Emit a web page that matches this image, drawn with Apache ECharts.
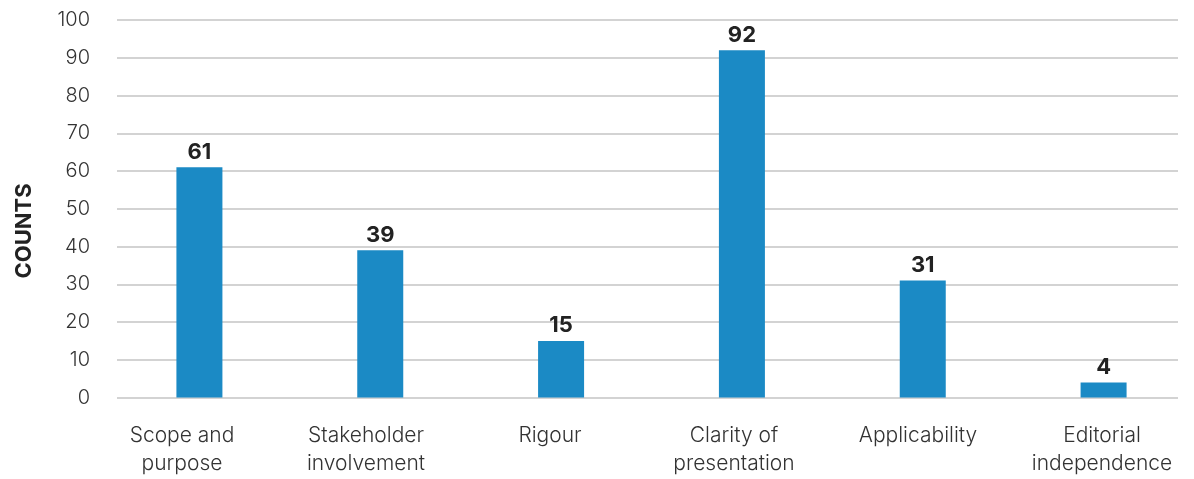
<!DOCTYPE html>
<html>
<head>
<meta charset="utf-8">
<script src="https://cdn.jsdelivr.net/npm/echarts@6/dist/echarts.min.js"></script>
<style>
  html, body { margin: 0; padding: 0; background: #fff; }
  #chart { width: 1194px; height: 479px; }
</style>
</head>
<body>
<div id="chart"></div>
<script>
const categories = [
  "Scope and\npurpose",
  "Stakeholder\ninvolvement",
  "Rigour",
  "Clarity of\npresentation",
  "Applicability",
  "Editorial\nindependence",
];
const counts = [61, 39, 15, 92, 31, 4];
const yTicks = { min: 0, max: 100, interval: 10 };

const chart = echarts.init(document.getElementById("chart"), undefined, {
  renderer: "canvas",
});
const font = "Inter, 'Noto Sans', sans-serif";
const textColor = "#333";

chart.setOption({
  backgroundColor: "#fff",
  animation: false,
  textStyle: { fontFamily: font },
  grid: [
    // grid lines + y labels
    { left: 117, right: 16, top: 20, bottom: 81.5 },
    // bars
    { left: 109, width: 1092, top: 20, bottom: 81.5 },
    // category labels (slightly offset from bars, as in the source)
    { left: 90, width: 1110, top: 20, bottom: 81.5 },
  ],
  xAxis: [
    { type: "category", gridIndex: 0, data: categories, show: false },
    { type: "category", gridIndex: 1, data: categories, show: false },
    {
      type: "category",
      gridIndex: 2,
      data: categories,
      axisLine: { show: false },
      axisTick: { show: false },
      axisLabel: {
        color: textColor,
        fontSize: 21,
        lineHeight: 28,
        margin: 24,
        fontFamily: font,
        fontWeight: 300,
      },
    },
  ],
  yAxis: [
    {
      type: "value",
      gridIndex: 0,
      min: yTicks.min,
      max: yTicks.max,
      interval: yTicks.interval,
      axisLine: { show: false },
      axisTick: { show: false },
      axisLabel: {
        color: textColor,
        fontSize: 20,
        margin: 27,
        fontFamily: font,
        fontWeight: 300,
      },
      splitLine: { lineStyle: { color: "#c4c4c4", width: 1.5 } },
    },
    {
      type: "value",
      gridIndex: 1,
      min: yTicks.min,
      max: yTicks.max,
      interval: yTicks.interval,
      show: false,
      splitLine: { show: false },
    },
    {
      type: "value",
      gridIndex: 2,
      min: yTicks.min,
      max: yTicks.max,
      interval: yTicks.interval,
      show: false,
      splitLine: { show: false },
    },
  ],
  graphic: [
    {
      type: "text",
      x: 24,
      y: 231,
      rotation: Math.PI / 2,
      style: {
        text: "COUNTS",
        fill: "#222",
        font: "bold 22px " + font,
        align: "center",
        verticalAlign: "middle",
      },
    },
  ],
  series: [
    {
      type: "bar",
      xAxisIndex: 1,
      yAxisIndex: 1,
      data: counts,
      barWidth: 46,
      itemStyle: { color: "#1b8ac5" },
      label: {
        show: true,
        position: "top",
        distance: 4,
        color: "#222",
        fontSize: 22,
        fontWeight: "bold",
        fontFamily: font,
      },
    },
  ],
});
</script>
</body>
</html>
